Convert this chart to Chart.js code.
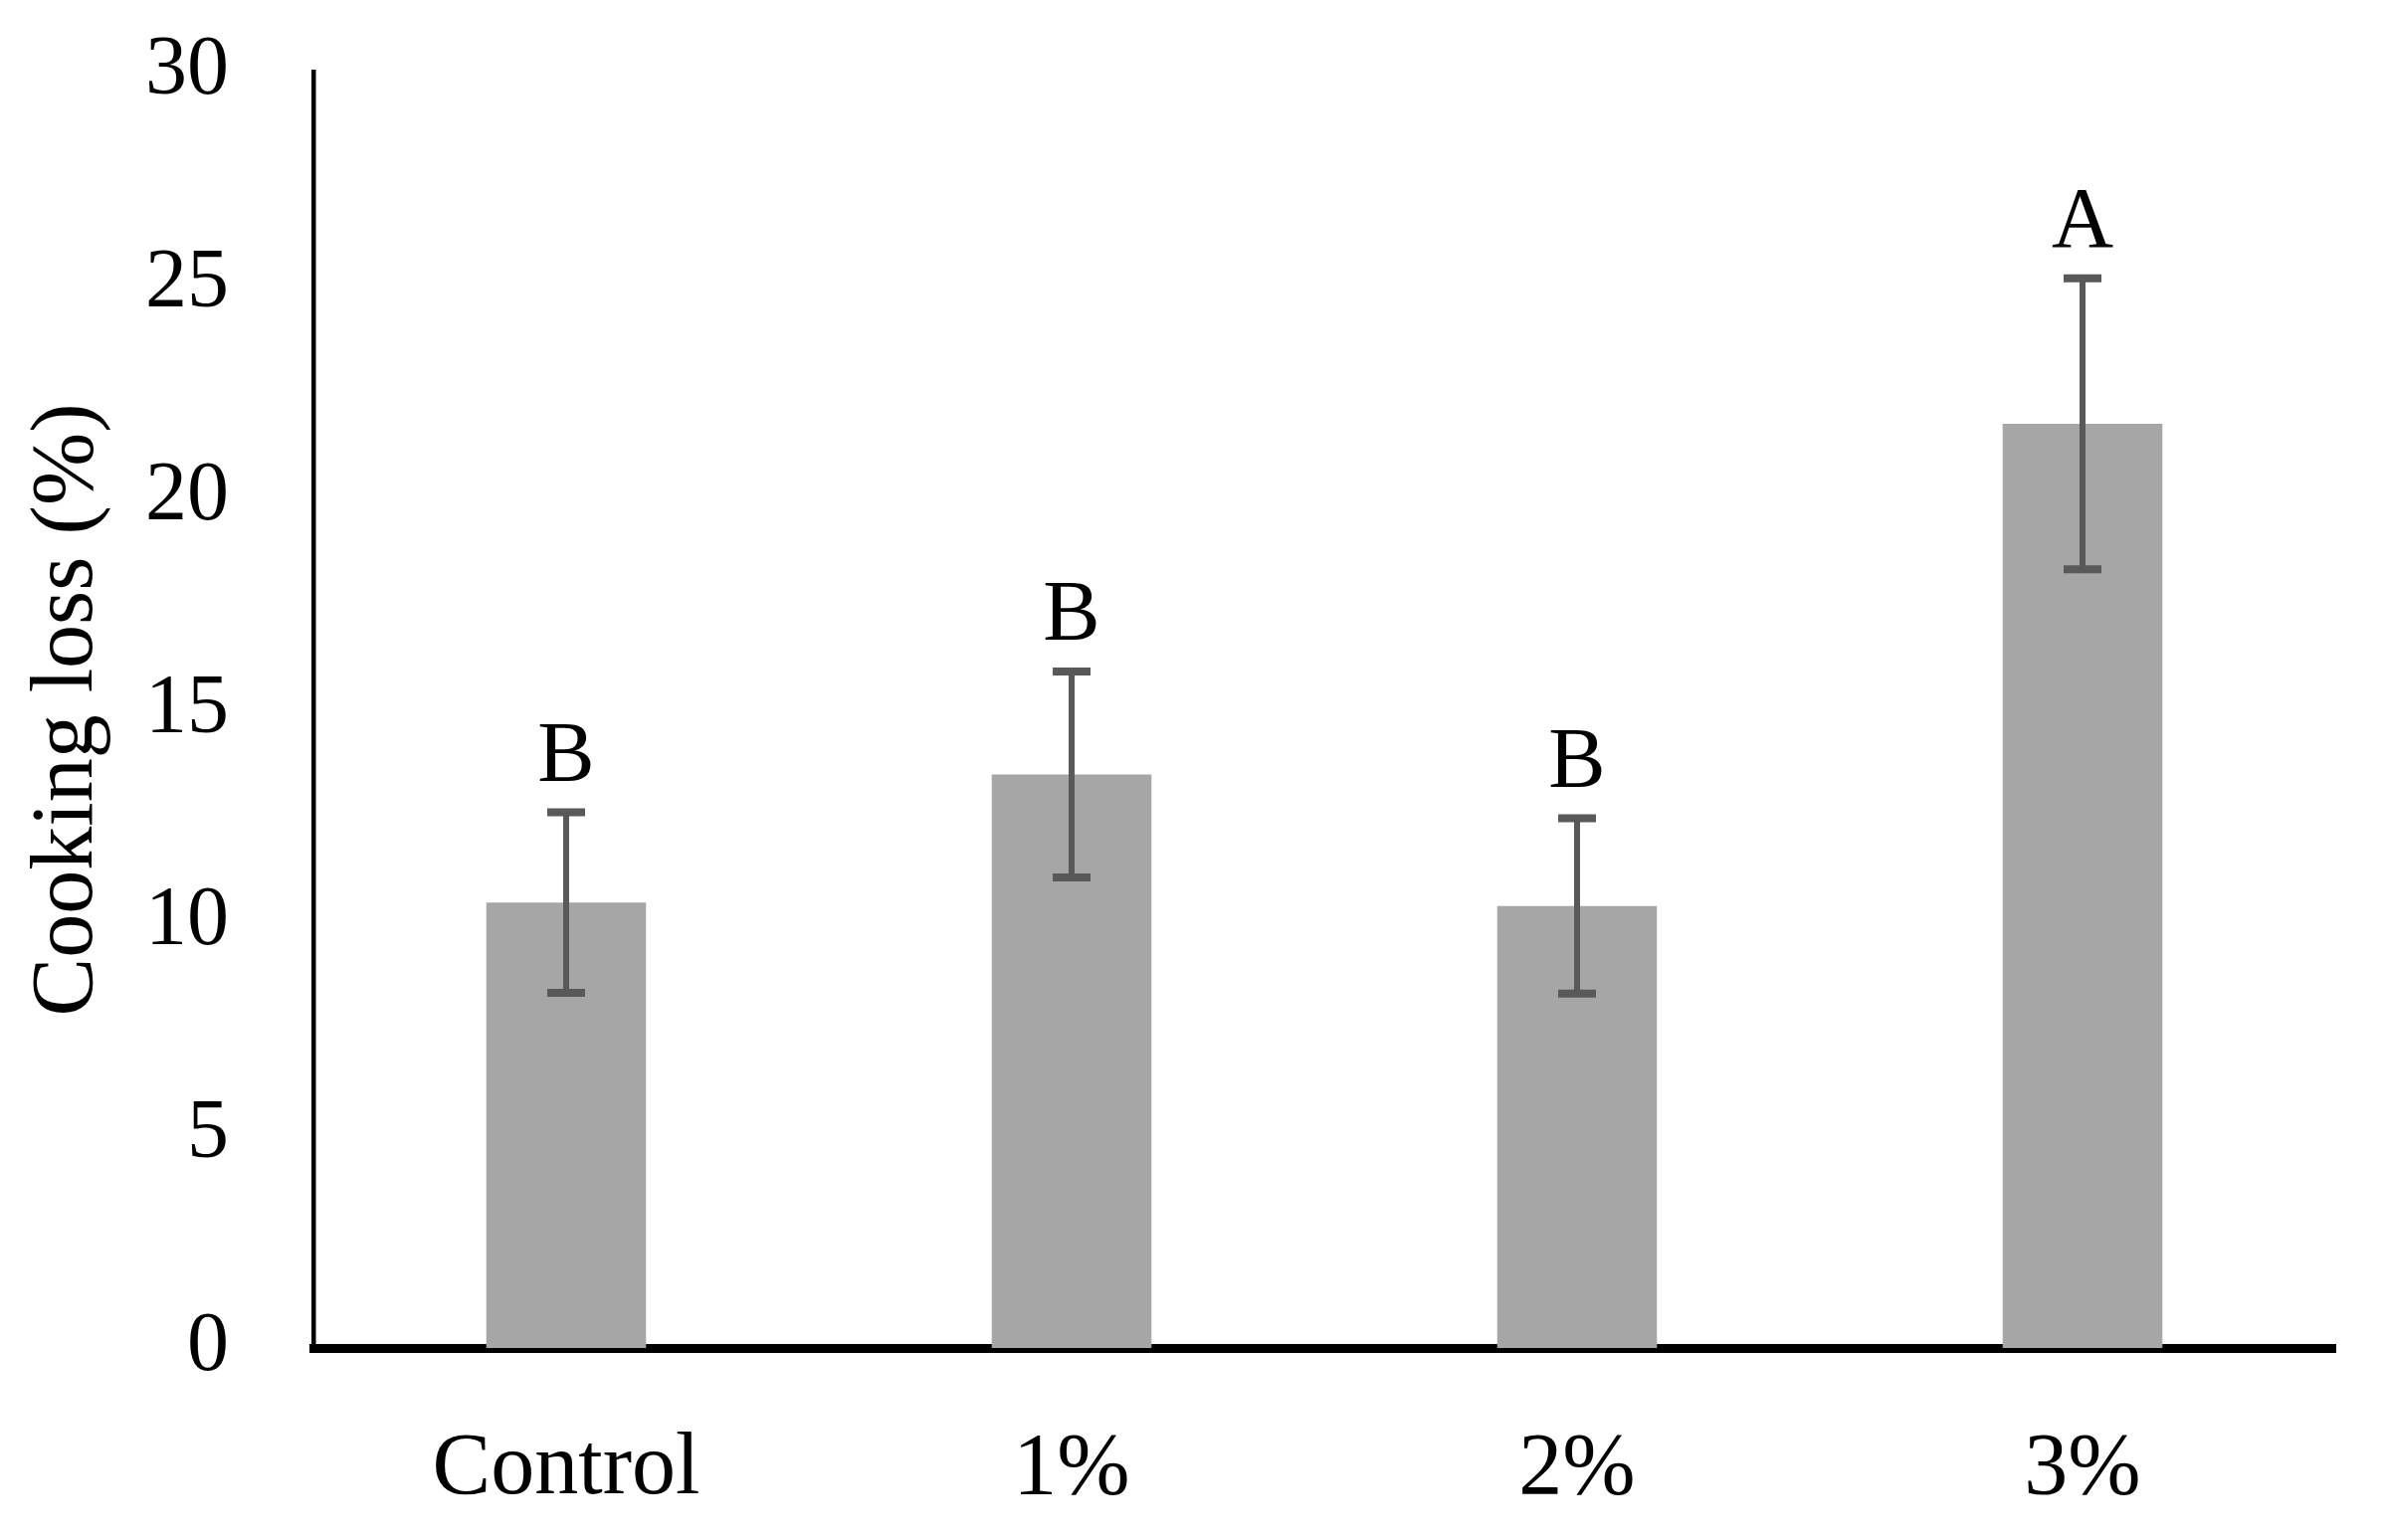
<!DOCTYPE html>
<html>
<head>
<meta charset="utf-8">
<script src="https://cdn.jsdelivr.net/npm/chart.js@4"></script>
<style>
  html, body { margin: 0; padding: 0; background: #ffffff; }
  canvas { display: block; }
</style>
</head>
<body>
<canvas id="chart" width="2397" height="1548"></canvas>
<script>
const categories = ['Control', '1%', '2%', '3%'];
const cookingLoss = [10.47, 13.48, 10.39, 21.72];
const errorValues = [2.12, 2.42, 2.06, 3.42];
const letters = ['B', 'B', 'B', 'A'];
const yTicks = [0, 5, 10, 15, 20, 25, 30];

const serif = 'Liberation Serif';

// error bars and letters above each bar
const errorBarPlugin = {
  id: 'errorBars',
  afterDatasetsDraw(chart) {
    const ctx = chart.ctx;
    const yScale = chart.scales.y;
    const meta = chart.getDatasetMeta(0);
    ctx.save();
    meta.data.forEach((bar, i) => {
      const x = bar.x;
      const top = yScale.getPixelForValue(cookingLoss[i] + errorValues[i]);
      const bottom = yScale.getPixelForValue(cookingLoss[i] - errorValues[i]);
      ctx.strokeStyle = '#595959';
      ctx.lineWidth = 6;
      ctx.beginPath();
      ctx.moveTo(x, top);
      ctx.lineTo(x, bottom);
      ctx.stroke();
      ctx.lineWidth = 8;
      ctx.beginPath();
      ctx.moveTo(x - 19, top);
      ctx.lineTo(x + 19, top);
      ctx.moveTo(x - 19, bottom);
      ctx.lineTo(x + 19, bottom);
      ctx.stroke();

      ctx.fillStyle = '#000000';
      ctx.font = '86px "' + serif + '"';
      ctx.textAlign = 'center';
      ctx.textBaseline = 'alphabetic';
      ctx.fillText(letters[i], x, top - 32);
    });
    ctx.restore();
  }
};

new Chart(document.getElementById('chart'), {
  type: 'bar',
  data: {
    labels: categories,
    datasets: [{
      label: 'Cooking loss',
      data: cookingLoss,
      backgroundColor: '#a6a6a6',
      borderWidth: 0,
      barPercentage: 0.316,
      categoryPercentage: 1.0
    }]
  },
  options: {
    responsive: false,
    animation: false,
    devicePixelRatio: 1,
    layout: { padding: { left: 0, right: 50, top: 72, bottom: 0 } },
    plugins: {
      legend: { display: false },
      tooltip: { enabled: false }
    },
    scales: {
      x: {
        grid: { display: false, drawTicks: false },
        border: { display: true, color: '#000000', width: 9 },
        ticks: {
          color: '#000000',
          padding: 70,
          font: { family: serif, size: 88 }
        },
        afterFit(scale) { scale.height = 193; }
      },
      y: {
        min: 0,
        max: 30,
        afterBuildTicks(scale) { scale.ticks = yTicks.map(v => ({ value: v })); },
        grid: { display: false, drawTicks: false },
        border: { display: true, color: '#000000', width: 4.5 },
        ticks: {
          color: '#000000',
          padding: 85,
          font: { family: serif, size: 84 }
        },
        title: {
          display: true,
          text: 'Cooking loss (%)',
          color: '#000000',
          padding: { top: 16, bottom: 0 },
          font: { family: serif, size: 88 }
        },
        afterFit(scale) {
          scale.width = 315;
          scale.paddingTop = 0;
          scale.paddingBottom = 0;
        }
      }
    }
  },
  plugins: [errorBarPlugin]
});
</script>
</body>
</html>
